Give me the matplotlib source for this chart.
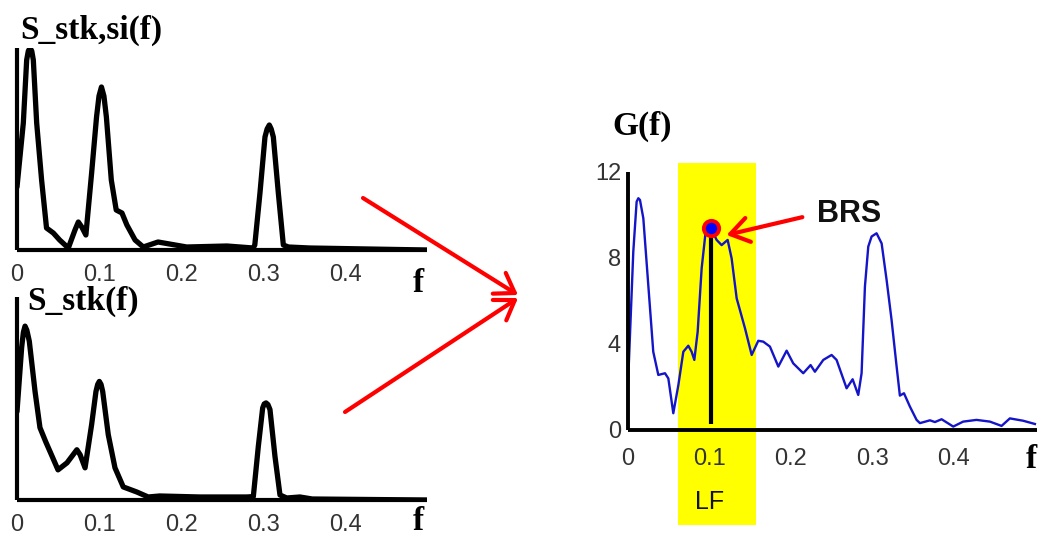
import numpy as np
import matplotlib
matplotlib.use('Agg')
import matplotlib.pyplot as plt
from matplotlib.patches import Rectangle, FancyArrowPatch

# ---- spectra (frequency in Hz, power in relative units) ----
f_si = [0.000, 0.0077, 0.0118, 0.0138, 0.0159, 0.018, 0.0199, 0.024, 0.030, 0.036,
        0.0443, 0.052, 0.0626, 0.0707, 0.0748, 0.079, 0.084, 0.091, 0.097, 0.100,
        0.103, 0.106, 0.109, 0.115, 0.121, 0.128, 0.134, 0.144, 0.154, 0.172,
        0.207, 0.256, 0.288, 0.290, 0.2963, 0.3024, 0.305, 0.3077, 0.310, 0.3126,
        0.3187, 0.3248, 0.331, 0.357, 0.500]
s_si = [3.15, 6.35, 9.5, 9.95, 10.1, 9.95, 9.5, 6.35, 3.5, 1.1,
        0.85, 0.5, 0.1, 1.0, 1.4, 1.15, 0.75, 3.85, 6.65, 7.7,
        8.15, 7.7, 6.65, 3.5, 2.0, 1.85, 1.25, 0.5, 0.15, 0.4,
        0.15, 0.2, 0.1, 0.25, 2.85, 5.65, 6.05, 6.25, 6.05, 5.65,
        2.85, 0.25, 0.15, 0.1, 0.0]

f_stk = [0.0, 0.0057, 0.0078, 0.0098, 0.012, 0.015, 0.022, 0.028, 0.035, 0.042,
         0.050, 0.061, 0.073, 0.077, 0.083, 0.091, 0.0963, 0.0984, 0.1004, 0.1025,
         0.1045, 0.1113, 0.1195, 0.1296, 0.146, 0.160, 0.174, 0.223, 0.280, 0.2882,
         0.2943, 0.2996, 0.3015, 0.3037, 0.306, 0.3085, 0.3146, 0.3207, 0.3289, 0.345,
         0.360, 0.500]
s_stk = [4.4, 7.6, 8.35, 8.65, 8.45, 7.9, 5.4, 3.6, 2.9, 2.25,
         1.5, 1.85, 2.5, 2.25, 1.6, 3.75, 5.4, 5.75, 5.9, 5.75,
         5.4, 3.25, 1.6, 0.65, 0.4, 0.15, 0.2, 0.15, 0.15, 0.17,
         2.67, 4.58, 4.78, 4.83, 4.75, 4.5, 2.17, 0.25, 0.1, 0.15,
         0.05, 0.0]

f_g = [0.000, 0.0065, 0.0106, 0.0127, 0.0147, 0.0188, 0.0249, 0.031, 0.0372, 0.0454,
       0.0495, 0.0556, 0.0618, 0.0679, 0.074, 0.0781, 0.0814, 0.0855, 0.0904, 0.0953,
       0.1018, 0.1088, 0.1149, 0.1223, 0.1272, 0.1334, 0.1436, 0.1518, 0.1599, 0.166,
       0.1742, 0.1845, 0.1947, 0.2028, 0.2151, 0.2241, 0.2294, 0.2397, 0.2499, 0.256,
       0.2683, 0.2757, 0.2826, 0.2867, 0.2908, 0.2949, 0.299, 0.3051, 0.3113, 0.3174,
       0.3235, 0.3297, 0.3337, 0.3387, 0.346, 0.3542, 0.3583, 0.3706, 0.3767, 0.3849,
       0.3992, 0.4114, 0.4278, 0.4442, 0.4585, 0.4687, 0.4851, 0.4994]
g = [2.1, 8.3, 10.62, 10.78, 10.7, 9.85, 6.74, 3.64, 2.56, 2.64,
     2.4, 0.78, 2.09, 3.64, 3.92, 3.64, 3.26, 4.57, 7.52, 9.22,
     9.38, 8.84, 8.6, 8.84, 7.98, 6.12, 4.73, 3.49, 4.15, 4.11,
     3.88, 2.95, 3.69, 3.1, 2.64, 3.02, 2.71, 3.26, 3.49, 3.26,
     1.94, 2.36, 1.63, 2.64, 6.67, 8.53, 9.0, 9.15, 8.68, 6.98,
     5.12, 2.95, 1.6, 1.71, 1.09, 0.47, 0.32, 0.45, 0.37, 0.5,
     0.16, 0.39, 0.47, 0.39, 0.19, 0.54, 0.43, 0.28]

x_ticks = [0, 0.1, 0.2, 0.3, 0.4]
x_tick_labels = ['0', '0.1', '0.2', '0.3', '0.4']
g_ticks = [0, 4, 8, 12]

lf_band = (0.061, 0.157)
brs_f, brs_g = 0.1018, 9.38

SERIF_B = dict(family='Liberation Serif', weight='bold')
TICK_FONT = 'Liberation Sans'

fig = plt.figure(figsize=(10.46, 5.42), dpi=100)


def style_axes(ax, lw, pad):
    for s in ('top', 'right'):
        ax.spines[s].set_visible(False)
    for s in ('left', 'bottom'):
        ax.spines[s].set_linewidth(lw)
        ax.spines[s].set_capstyle('butt')
    ax.patch.set_visible(False)
    ax.tick_params(length=0, pad=pad, labelsize=17, labelcolor='#333333')
    for lab in ax.get_xticklabels() + ax.get_yticklabels():
        lab.set_fontfamily(TICK_FONT)


# top-left: S_stk,si(f)
ax1 = fig.add_axes([17 / 1046, 1 - 250 / 542, 410 / 1046, 202 / 542])
ax1.plot(f_si, s_si, color='black', lw=3.8, solid_joinstyle='round', solid_capstyle='round')
ax1.set_xlim(0, 0.5)
ax1.set_ylim(0, 10.1)
ax1.set_xticks(x_ticks, x_tick_labels)
ax1.set_yticks([])
style_axes(ax1, 3.0, 10)

# bottom-left: S_stk(f)
ax2 = fig.add_axes([17 / 1046, 1 - 500 / 542, 410 / 1046, 203 / 542])
ax2.plot(f_stk, s_stk, color='black', lw=3.8, solid_joinstyle='round', solid_capstyle='round')
ax2.set_xlim(0, 0.5)
ax2.set_ylim(0, 10.1)
ax2.set_xticks(x_ticks, x_tick_labels)
ax2.set_yticks([])
style_axes(ax2, 3.0, 10)

# right: G(f) with LF band and BRS marker
ax3 = fig.add_axes([628 / 1046, 1 - 430 / 542, 409 / 1046, 258 / 542])
ax3.set_xlim(0, 0.502)
ax3.set_ylim(0, 12)
ax3.add_patch(Rectangle((lf_band[0], -4.4), lf_band[1] - lf_band[0], 16.8,
                        facecolor='#ffff00', edgecolor='none', zorder=0, clip_on=False))
ax3.plot(f_g, g, color='#1414c8', lw=1.7, zorder=2, solid_joinstyle='round')
ax3.plot([brs_f, brs_f], [0.3, brs_g], color='black', lw=3.0, zorder=3, solid_capstyle='butt')
ax3.plot([brs_f], [brs_g], 'o', ms=11, mfc='#0000ff', mec='#ff0000', mew=2.8, zorder=4)
ax3.set_xticks(x_ticks, x_tick_labels)
ax3.set_yticks(g_ticks, [str(t) for t in g_ticks])
style_axes(ax3, 2.8, 13)
ax3.tick_params(axis='y', pad=5)
ax3.text(0.1006, -3.35, 'LF', ha='center', va='center', fontsize=18,
         family=TICK_FONT, color='#111111')
ax3.annotate('', xy=(0.121, 9.07), xytext=(0.214, 9.9),
             arrowprops=dict(arrowstyle='->,head_length=0.6,head_width=0.4',
                             color='#ff0000', lw=3, mutation_scale=22,
                             shrinkA=0, shrinkB=0), zorder=5)
ax3.text(0.271, 10.05, 'BRS', ha='center', va='center', fontsize=22,
         family=TICK_FONT, weight='bold', color='#111111')

# panel titles and frequency axis labels
fig.text(20 / 1046, 1 - 30 / 542, 'S_stk,si(f)', ha='left', va='center', fontsize=24, **SERIF_B)
fig.text(27 / 1046, 1 - 301 / 542, 'S_stk(f)', ha='left', va='center', fontsize=24, **SERIF_B)
fig.text(612 / 1046, 1 - 126 / 542, 'G(f)', ha='left', va='center', fontsize=24, **SERIF_B)
for (px, py) in [(418, 283), (418, 521), (1031, 460)]:
    fig.text(px / 1046, 1 - py / 542, 'f', ha='center', va='center', fontsize=24, **SERIF_B)

# red arrows joining the two spectra to G(f)
for tail, head in [((363, 198), (518, 295)), ((345, 412), (518, 298))]:
    arr = FancyArrowPatch((tail[0] / 1046, 1 - tail[1] / 542), (head[0] / 1046, 1 - head[1] / 542),
                          transform=fig.transFigure,
                          arrowstyle='->,head_length=0.6,head_width=0.4',
                          color='#ff0000', lw=3, mutation_scale=22, shrinkA=0, shrinkB=0)
    fig.add_artist(arr)

fig.savefig('out.png', dpi=100, facecolor='white')
